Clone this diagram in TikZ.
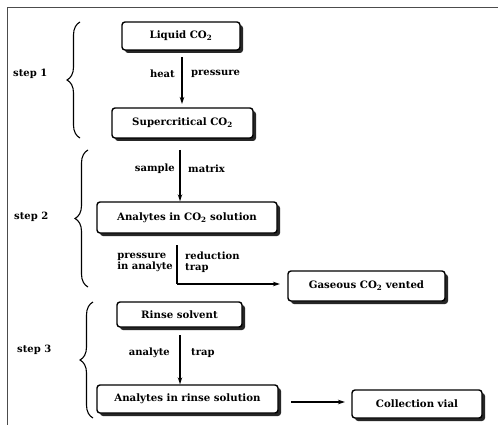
\documentclass[tikz,border=0pt]{standalone}
\usepackage{fontspec}
\setmainfont{DejaVu Serif}
\usetikzlibrary{arrows.meta,shadows,decorations.pathreplacing}
\begin{document}
\begin{tikzpicture}[x=1pt,y=-1pt,
  box/.style={draw=black,line width=1.4pt,rounded corners=3pt,fill=white,
    font=\bfseries\fontsize{10.2}{12}\selectfont,inner sep=0pt,
    drop shadow={shadow xshift=3pt,shadow yshift=-3pt,fill=black!85,opacity=1}},
  lbl/.style={font=\bfseries\fontsize{10}{11}\selectfont,inner sep=0pt,align=left},
  steplbl/.style={font=\bfseries\fontsize{10}{12}\selectfont,inner sep=0pt},
  flow/.style={line width=1.1pt,-{Stealth[length=7pt,width=4.5pt]}},
  brc/.style={line width=1.1pt,decorate,decoration={brace,amplitude=13pt}},
  frame/.style={line width=1pt,black!70}]
\useasboundingbox (0,0) rectangle (498,425);
\fill[white] (0,0) rectangle (498,425);
\draw[frame] (498,7.5) -- (7.5,7.5) -- (7.5,425);
% boxes
\node[box,minimum width=118pt,minimum height=28pt] (liq) at (181,36) {Liquid CO\textsubscript{2}};
\node[box,minimum width=141pt,minimum height=30pt] (sup) at (182.5,123) {Supercritical CO\textsubscript{2}};
\node[box,minimum width=180pt,minimum height=31pt] (ana) at (187,217.5) {Analytes in CO\textsubscript{2} solution};
\node[box,minimum width=157pt,minimum height=30pt] (gas) at (366.5,286) {Gaseous CO\textsubscript{2} vented};
\node[box,minimum width=125pt,minimum height=25pt] (rin) at (179.5,314.5) {Rinse solvent};
\node[box,minimum width=181pt,minimum height=28pt] (arin) at (187.5,399) {Analytes in rinse solution};
\node[box,minimum width=130pt,minimum height=28pt] (vial) at (417,404) {Collection vial};
% connectors
\coordinate (a1s) at (182,57);
\coordinate (a1e) at (182,104);
\draw[flow] (a1s) -- (a1e);
\node[lbl,anchor=east] (heat) at (175,74) {heat};
\node[lbl,anchor=west] (pres) at (191,74) {pressure};
\coordinate (a2s) at (180,150);
\draw[flow] (a2s) -- (ana.north -| a2s);
\node[lbl,anchor=east] (samp) at (175,169) {sample};
\node[lbl,anchor=west] (matr) at (188,169) {matrix};
\coordinate (a3s) at (177,245);
\coordinate (a3c) at (177,284);
\draw[line width=1.1pt] (a3s) -- (a3c);
\draw[flow] (a3c) -- (280,284);
\node[lbl,anchor=east] (pin) at (173,262) {pressure\\in analyte};
\node[lbl,anchor=west] (red) at (185,262) {reduction\\trap};
\coordinate (a4s) at (180,335);
\draw[flow] (a4s) -- (arin.north -| a4s);
\node[lbl,anchor=east] (anl) at (170,353) {analyte};
\node[lbl,anchor=west] (trp) at (191,353) {trap};
\coordinate (a5s) at (291,402);
\draw[flow] (a5s) -- (345,402);
% braces and step labels
\draw[brc] (80,138) -- (80,22);
\draw[brc] (88,287) -- (88,150);
\draw[brc] (93,418) -- (93,302);
\node[steplbl,anchor=west] (s1) at (13,74) {step 1};
\node[steplbl,anchor=west] (s2) at (14,217) {step 2};
\node[steplbl,anchor=west] (s3) at (17,350) {step 3};
\end{tikzpicture}
\end{document}
